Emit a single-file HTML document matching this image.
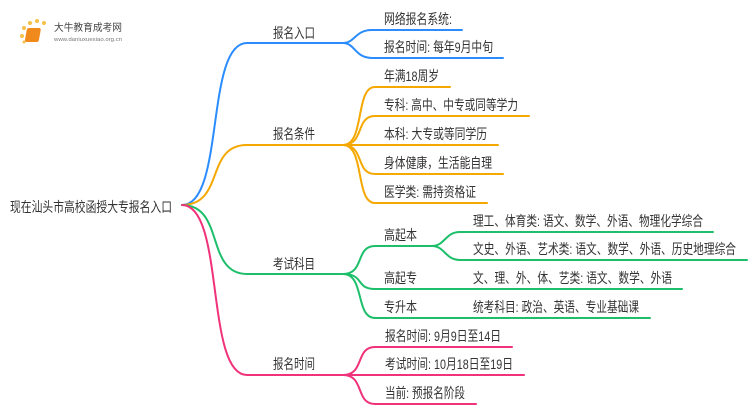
<!DOCTYPE html>
<html><head><meta charset="utf-8"><style>
html,body{margin:0;padding:0;background:#fff;}
svg{display:block;}
text{font-family:"Liberation Sans","Noto Sans CJK SC",sans-serif;font-size:14px;fill:#333;}
</style></head><body>
<svg width="750" height="410" viewBox="0 0 750 410" xmlns="http://www.w3.org/2000/svg">
<g fill="none" stroke-width="2" stroke-linecap="round">
<g stroke="#2a8cff">
<path d="M182,205 C225,205 205,43 247,43 L343,43"/>
<path d="M343,43 C355,43 355,30 372,30 L462,30"/>
<path d="M343,43 C355,43 355,58 372,58 L503,58"/>
</g>
<g stroke="#f5a800">
<path d="M182,205 C225,205 205,145 247,145 L343,145"/>
<path d="M343,145 C365,145 355,87 375,87 L450,87"/>
<path d="M343,145 C365,145 355,116 375,116 L529,116"/>
<path d="M343,145 L498,145"/>
<path d="M343,145 C365,145 355,174 375,174 L503,174"/>
<path d="M343,145 C365,145 355,203 375,203 L487,203"/>
</g>
<g stroke="#1dbf6a">
<path d="M182,205 C225,205 205,274 247,274 L343,274"/>
<path d="M343,274 C365,274 355,246 375,246 L432,246"/>
<path d="M343,274 C365,274 355,289 375,289 L682,289"/>
<path d="M343,274 C365,274 355,318 375,318 L650,318"/>
<path d="M432,246 C445,246 445,232 460,232 L713,232"/>
<path d="M432,246 C445,246 445,260 460,260 L747,260"/>
</g>
<g stroke="#f0327a">
<path d="M182,205 C225,205 205,375 247,375 L343,375"/>
<path d="M343,375 C365,375 355,347 375,347 L512,347"/>
<path d="M343,375 L524,375"/>
<path d="M343,375 C365,375 355,404 375,404 L476,404"/>
</g>
</g>
<g>
<circle cx="24" cy="28" r="2" fill="#f7c04a"/><circle cx="30" cy="23" r="2" fill="#f7c04a"/><circle cx="37" cy="21" r="2" fill="#f7c04a"/><circle cx="44" cy="23" r="2" fill="#f7c04a"/><circle cx="22" cy="36" r="2" fill="#f7c04a"/><circle cx="24" cy="42" r="1.5" fill="#f7c04a"/>
<rect x="32" y="28" width="14" height="14" rx="2" fill="#f08a1c" transform="skewX(-10)"/>
<text x="54" y="31" textLength="68" lengthAdjust="spacingAndGlyphs" style="font-size:10px;fill:#444">大牛教育成考网</text>
<text x="54" y="41" textLength="68" lengthAdjust="spacingAndGlyphs" style="font-size:5.5px;fill:#777">www.daniuxuexiao.org.cn</text>
</g>
<g style="font-size:14px">
<text x="10" y="212" textLength="162" lengthAdjust="spacingAndGlyphs">现在汕头市高校函授大专报名入口</text>
<text x="273" y="38" textLength="42" lengthAdjust="spacingAndGlyphs">报名入口</text>
<text x="273" y="139" textLength="42" lengthAdjust="spacingAndGlyphs">报名条件</text>
<text x="273" y="269" textLength="42" lengthAdjust="spacingAndGlyphs">考试科目</text>
<text x="273" y="369" textLength="42" lengthAdjust="spacingAndGlyphs">报名时间</text>
<text x="384" y="24" textLength="68" lengthAdjust="spacingAndGlyphs">网络报名系统:</text>
<text x="384" y="52" textLength="109" lengthAdjust="spacingAndGlyphs">报名时间: 每年9月中旬</text>
<text x="384" y="81" textLength="55" lengthAdjust="spacingAndGlyphs">年满18周岁</text>
<text x="384" y="110" textLength="134" lengthAdjust="spacingAndGlyphs">专科: 高中、中专或同等学力</text>
<text x="384" y="139" textLength="103" lengthAdjust="spacingAndGlyphs">本科: 大专或等同学历</text>
<text x="384" y="168" textLength="108" lengthAdjust="spacingAndGlyphs">身体健康，生活能自理</text>
<text x="384" y="197" textLength="92" lengthAdjust="spacingAndGlyphs">医学类: 需持资格证</text>
<text x="384" y="240" textLength="33" lengthAdjust="spacingAndGlyphs">高起本</text>
<text x="384" y="283" textLength="33" lengthAdjust="spacingAndGlyphs">高起专</text>
<text x="384" y="312" textLength="33" lengthAdjust="spacingAndGlyphs">专升本</text>
<text x="473" y="226" textLength="230" lengthAdjust="spacingAndGlyphs">理工、体育类: 语文、数学、外语、物理化学综合</text>
<text x="473" y="254" textLength="263" lengthAdjust="spacingAndGlyphs">文史、外语、艺术类: 语文、数学、外语、历史地理综合</text>
<text x="473" y="283" textLength="199" lengthAdjust="spacingAndGlyphs">文、理、外、体、艺类: 语文、数学、外语</text>
<text x="473" y="312" textLength="166" lengthAdjust="spacingAndGlyphs">统考科目: 政治、英语、专业基础课</text>
<text x="385" y="341" textLength="116" lengthAdjust="spacingAndGlyphs">报名时间: 9月9日至14日</text>
<text x="385" y="369" textLength="128" lengthAdjust="spacingAndGlyphs">考试时间: 10月18日至19日</text>
<text x="385" y="398" textLength="80" lengthAdjust="spacingAndGlyphs">当前: 预报名阶段</text>
</g>
</svg>
</body></html>
